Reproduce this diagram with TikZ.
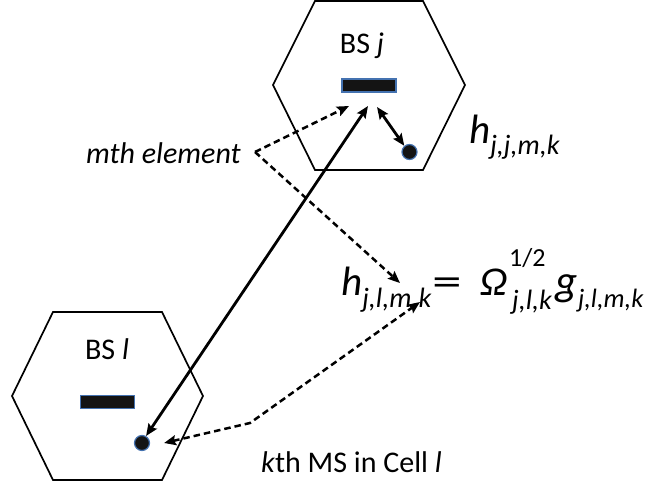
\documentclass[tikz,border=0pt]{standalone}
\usepackage{fontspec}
\setmainfont{Carlito}
\usetikzlibrary{arrows.meta}
\definecolor{edgeblue}{RGB}{68,114,176}
\tikzset{
  hexa/.style={draw=black, line width=1.7pt, line join=miter},
  antenna/.style={draw=edgeblue, fill=black!92, line width=1.2pt, minimum width=54pt, minimum height=13pt, inner sep=0pt},
  msdot/.style={circle, draw=edgeblue, fill=black!92, line width=1.2pt, minimum size=15pt, inner sep=0pt},
  tip/.style={-{Stealth[length=12pt,width=10pt,inset=2pt]}},
  both/.style={{Stealth[length=12pt,width=10pt,inset=2pt]}-{Stealth[length=12pt,width=10pt,inset=2pt]}},
  solidarrow/.style={line width=2.8pt},
  dasharrow/.style={line width=2.5pt, dash pattern=on 6.5pt off 4pt},
  lbl/.style={inner sep=0pt, font=\fontsize{30}{30}\selectfont},
}
\newcommand{\bigf}{\fontsize{41}{41}\selectfont}
\newcommand{\subf}{\fontsize{28}{28}\selectfont\itshape}
\newcommand{\subg}{\fontsize{26.5}{26.5}\selectfont\itshape}
\begin{document}
\begin{tikzpicture}[x=1pt,y=-1pt]
\useasboundingbox (0,0) rectangle (653,487);
% hexagon j
\draw[hexa] (315,1) -- (423,1) -- (465,85) -- (423,170) -- (315,170) -- (273,85) -- cycle;
% hexagon l
\draw[hexa] (53,312) -- (162,312) -- (203,396) -- (162,480) -- (53,480) -- (12,396) -- cycle;

\node[antenna] (rectj) at (369,85.5) {};
\node[antenna] (rectl) at (107.5,402) {};
\node[msdot] (dotj) at (409.5,152) {};
\node[msdot] (dotl) at (142,443) {};

\node[lbl, anchor=base] (bsj) at (362,53) {BS \textit{j}};
\node[lbl, anchor=base] (bsl) at (107,359) {BS \textit{l}};
\node[lbl, anchor=base west] (mth) at (86,163) {\textit{mth element}};
\node[lbl, anchor=base west] (kth) at (261,472) {\textit{k}th MS in Cell \textit{l}};

\node[inner sep=0pt, anchor=base west] (hjj) at (469,143)
  {{\bigf\itshape h}\raisebox{-11pt}{\subf j,j,m,k}};

\node[inner sep=0pt, anchor=base west] (eq) at (341,295)
  {{\bigf\itshape h}\raisebox{-12pt}{\subf j,l,m,k}\hspace{1pt}{\bigf\scalebox{1.45}[1]{=}}\hspace{19pt}{\bigf\itshape Ω}\hspace{1pt}\rlap{\raisebox{29pt}{\fontsize{26}{26}\selectfont 1/2}}\hspace{3pt}\raisebox{-14pt}{\subf j,l,k}\hspace{4pt}{\fontsize{43}{43}\selectfont\itshape g}\raisebox{-12pt}{\subg j,l,m,k}};

\coordinate (tipj) at (368,106);
\coordinate (corner) at (255,152);
\coordinate (tiprect) at (349,106);
\coordinate (tipeq) at (400,283);
\coordinate (bend) at (250,423);
\coordinate (tipk) at (420,302);
\coordinate (dbl1) at (377,107);

% solid arrows
\draw[solidarrow, both] (dotl.60) -- (tipj);
\draw[solidarrow, both] (dbl1) -- (dotj.130);
% dashed
\draw[dasharrow, tip] (corner) -- (tiprect);
\draw[dasharrow, tip] (corner) -- (tipeq);
\draw[dasharrow, both] (dotl.east) ++(14,0) coordinate (dl) (dl) -- (bend) -- (tipk);
\end{tikzpicture}
\end{document}
